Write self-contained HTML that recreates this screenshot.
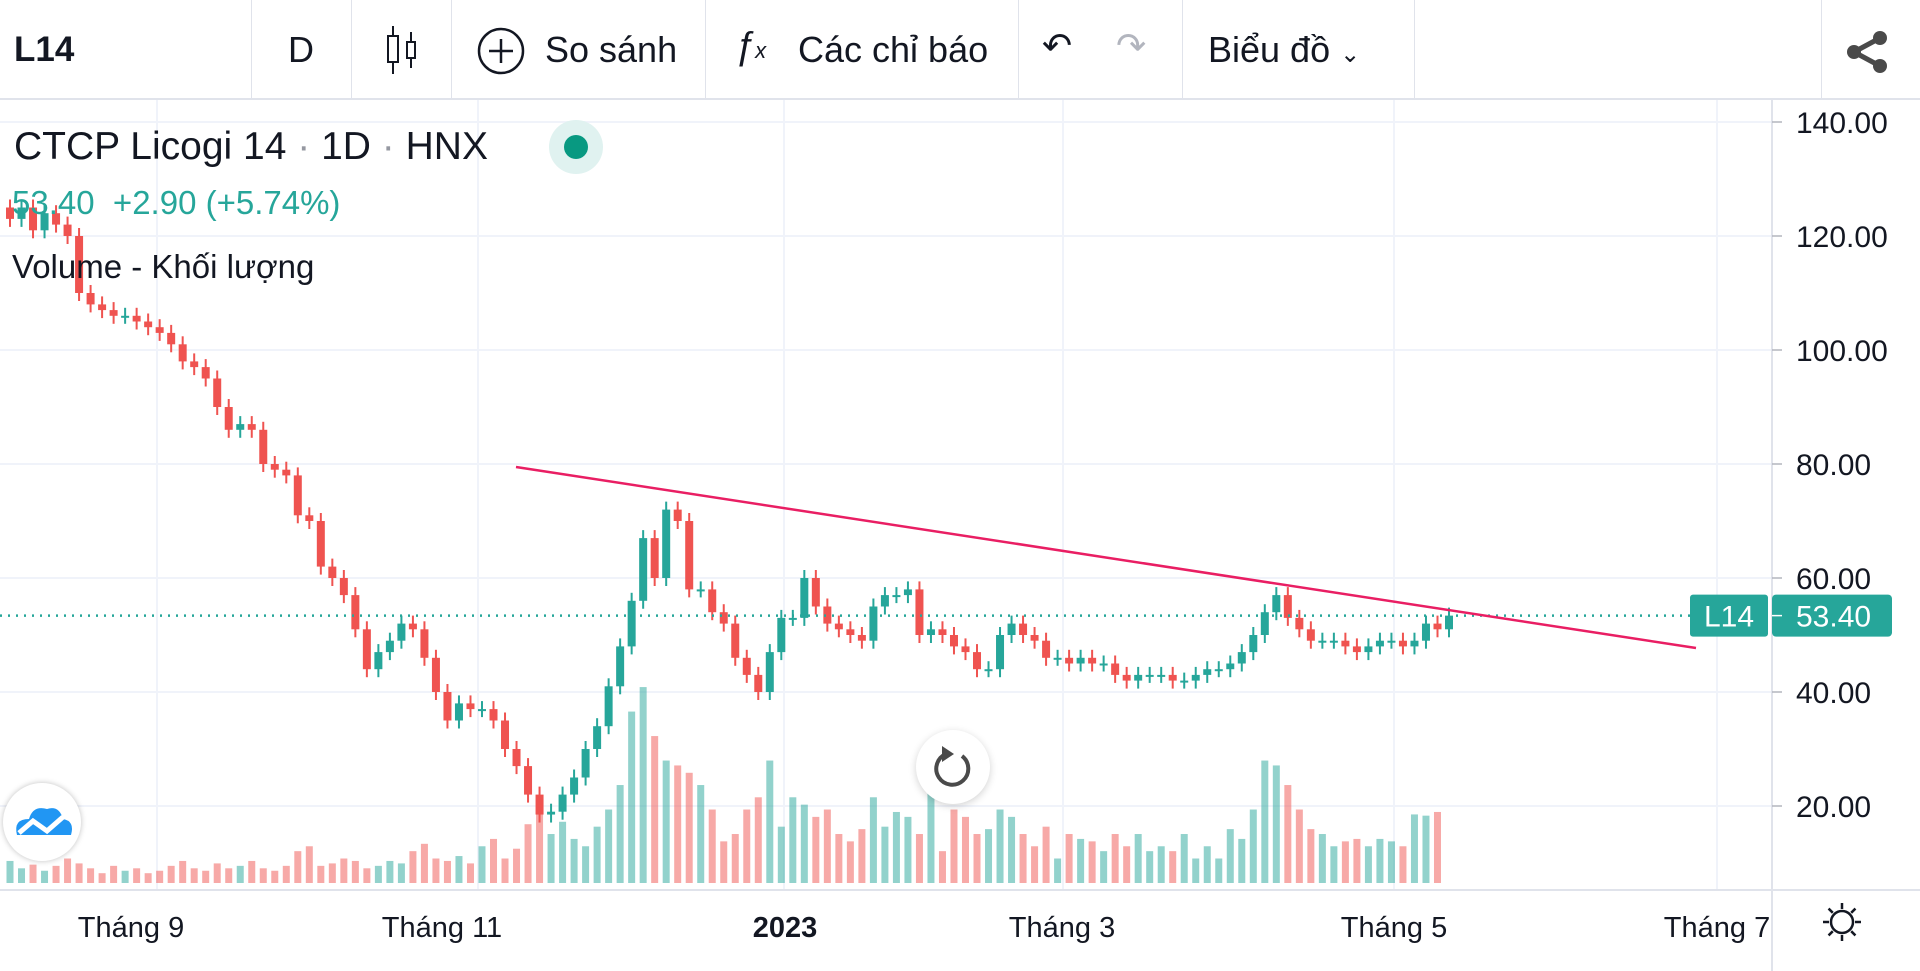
<!DOCTYPE html>
<html><head><meta charset="utf-8">
<style>
html,body{margin:0;padding:0;background:#fff;}
body{width:1920px;height:971px;overflow:hidden;position:relative;font-family:"Liberation Sans","Noto Sans CJK SC",sans-serif;color:#131722;}
.tb{position:absolute;top:0;left:0;width:1920px;height:98px;border-bottom:2px solid #e0e3eb;}
.sep{position:absolute;top:0;width:1px;height:98px;background:#e0e3eb;}
.t{position:absolute;font-size:36px;line-height:36px;white-space:nowrap;}
svg{position:absolute;left:0;top:0;}
</style></head><body>
<div class="tb">
  <div class="sep" style="left:251px"></div><div class="sep" style="left:351px"></div><div class="sep" style="left:451px"></div><div class="sep" style="left:705px"></div><div class="sep" style="left:1018px"></div><div class="sep" style="left:1182px"></div><div class="sep" style="left:1414px"></div><div class="sep" style="left:1821px"></div>
  <div class="t" style="left:14px;top:32px;font-weight:bold;font-size:35px">L14</div>
  <div class="t" style="left:288px;top:32px">D</div>
  <svg style="left:383px;top:24px" width="40" height="52"><line x1="10" y1="2" x2="10" y2="50" stroke="#131722" stroke-width="2"/><rect x="5" y="12" width="10" height="26" fill="#fff" stroke="#131722" stroke-width="2"/><line x1="28" y1="8" x2="28" y2="44" stroke="#131722" stroke-width="2"/><rect x="24" y="18" width="8" height="16" fill="#fff" stroke="#131722" stroke-width="2"/></svg>
  <svg style="left:476px;top:26px" width="50" height="50"><circle cx="25" cy="25" r="22" fill="none" stroke="#131722" stroke-width="2.5"/><line x1="25" y1="13" x2="25" y2="37" stroke="#131722" stroke-width="2.5"/><line x1="13" y1="25" x2="37" y2="25" stroke="#131722" stroke-width="2.5"/></svg>
  <div class="t" style="left:545px;top:32px">So sánh</div>
  <div class="t" style="left:734px;top:28px;font-style:italic;font-size:38px">ƒ<span style="font-size:22px">x</span></div>
  <div class="t" style="left:798px;top:32px">Các chỉ báo</div>
  <div class="t" style="left:1042px;top:28px;font-size:36px">↶</div>
  <div class="t" style="left:1116px;top:28px;font-size:36px;color:#b2b5be">↷</div>
  <div class="t" style="left:1208px;top:32px">Biểu đồ <span style="font-size:24px">⌄</span></div>
  <svg style="left:1846px;top:30px" width="44" height="44"><line x1="8" y1="22" x2="34" y2="8" stroke="#4a4a4a" stroke-width="5"/><line x1="8" y1="22" x2="34" y2="36" stroke="#4a4a4a" stroke-width="5"/><circle cx="8" cy="22" r="7" fill="#4a4a4a"/><circle cx="34" cy="8" r="7" fill="#4a4a4a"/><circle cx="34" cy="36" r="7" fill="#4a4a4a"/></svg>
</div>
<svg id="chart" width="1920" height="971" style="top:0"></svg>
<div class="t" style="left:14px;top:126px;font-size:39px;line-height:42px">CTCP Licogi 14 <span style="color:#9598a1">·</span> 1D <span style="color:#9598a1">·</span> HNX</div>
<div style="position:absolute;left:549px;top:120px;width:54px;height:54px;border-radius:50%;background:#e0f2f0"><div style="position:absolute;left:15px;top:15px;width:24px;height:24px;border-radius:50%;background:#089981"></div></div>
<div class="t" style="left:12px;top:185px;font-size:33px;color:#26a69a">53.40&nbsp;&nbsp;+2.90 (+5.74%)</div>
<div class="t" style="left:12px;top:249px;font-size:33px">Volume - Khối lượng</div>
<div style="position:absolute;left:3px;top:783px;width:78px;height:78px;border-radius:50%;background:#fff;box-shadow:0 0 6px rgba(0,0,0,.25)">
 <svg width="78" height="78"><path d="M14 52 Q10 36 26 36 Q30 22 44 26 Q56 22 60 36 Q72 38 68 52 Z" fill="#2196f3"/><polyline points="16,50 30,38 44,48 60,34" fill="none" stroke="#fff" stroke-width="5"/></svg></div>
<div style="position:absolute;left:916px;top:730px;width:74px;height:74px;border-radius:50%;background:#fff;box-shadow:0 2px 8px rgba(0,0,0,.18)">
 <svg width="74" height="74"><path d="M30 24 A16 16 0 1 0 46 26" fill="none" stroke="#4a4a4a" stroke-width="4"/><polygon points="26,16 38,24 26,32" fill="#4a4a4a"/></svg></div>
<script>
const priceTicks=[20,40,60,80,100,120,140];
const dateLabels=["Tháng 9","Tháng 11","2023","Tháng 3","Tháng 5","Tháng 7"];
const closes=[123,125,121,124,122,120,110,108,107,106,106,105,104,103,101,98,97,95,90,86,87,86,80,79,78,71,70,62,60,57,51,44,47,49,52,51,46,40,35,38,37,37,35,30,27,22,18.5,19,22,25,30,34,41,48,56,67,60,72,70,58,58,54,52,46,43,40,47,53,53,60,55,52,51,50,49,55,57,57,58,50,51,50,48,47,44,44,50,52,50,49,46,46,45,46,45,45,43,42,43,43,43,42,42,43,44,44,45,47,50,54,57,53,51,49,49,49,48,47,48,49,49,48,49,52,51,53.4];
const volumes=[18,12,15,10,14,20,16,12,8,14,10,12,8,10,14,18,12,10,16,12,14,18,12,10,14,26,30,14,16,20,18,12,14,18,16,26,32,20,18,22,16,30,36,20,28,48,62,40,50,36,30,46,60,80,140,160,120,100,96,90,80,60,34,40,60,70,100,46,70,64,54,60,40,34,44,70,46,58,54,40,74,26,60,54,40,44,60,54,40,30,46,20,40,36,34,26,40,30,40,26,30,26,40,20,30,20,44,36,60,100,96,80,60,44,40,30,34,36,30,36,34,30,56,55,58];
const N=closes.length;
const svg=document.getElementById('chart');
const NS='http://www.w3.org/2000/svg';
const yP=p=>920-5.7*p;
const x0=10,x1=1449;
const xB=i=>x0+i*(x1-x0)/(N-1);
const volBase=883,volK=1.2245;
function mk(t,a){const e=document.createElementNS(NS,t);for(const k in a)e.setAttribute(k,a[k]);svg.appendChild(e);return e;}
const vgx=[157,478,784,1063,1394,1717];
const lblx=[131,442,785,1062,1394,1717];
priceTicks.forEach(p=>{const l=mk('line',{x1:0,x2:1772,y1:yP(p),y2:yP(p),stroke:'#f0f3fa','stroke-width':2});

});
vgx.forEach(x=>{const l=mk('line',{x1:x,x2:x,y1:100,y2:890,stroke:'#f0f3fa','stroke-width':2});

});
mk('line',{x1:1772,x2:1772,y1:100,y2:971,stroke:'#e0e3eb','stroke-width':2});
mk('line',{x1:0,x2:1920,y1:890,y2:890,stroke:'#e0e3eb','stroke-width':2});
priceTicks.forEach(p=>{const t=mk('text',{x:1796,y:yP(p)+11,'font-size':30,fill:'#131722','font-family':'Liberation Sans'});t.textContent=p.toFixed(2);


mk('line',{x1:1772,x2:1782,y1:yP(p),y2:yP(p),stroke:'#b2b5be','stroke-width':1.5});});
dateLabels.forEach((d,i)=>{const t=mk('text',{x:lblx[i],y:937,'font-size':29,fill:'#131722','text-anchor':'middle','font-weight':d==='2023'?'bold':'normal','font-family':'Liberation Sans'});t.textContent=d;

});
volumes.forEach((v,i)=>{const o=i?closes[i-1]:closes[0];const up=closes[i]>=o;
const r=mk('rect',{x:xB(i)-3.5,y:volBase-v*volK,width:7,height:v*volK,fill:up?'rgba(38,166,154,0.5)':'rgba(239,83,80,0.5)'});

});
closes.forEach((c,i)=>{const o=i?closes[i-1]:closes[0]+2;const up=c>=o;const col=up?'#26a69a':'#ef5350';
const hi=Math.max(o,c),lo=Math.min(o,c);
mk('line',{x1:xB(i),x2:xB(i),y1:yP(hi)-8,y2:yP(lo)+8,stroke:col,'stroke-width':2});
const r=mk('rect',{x:xB(i)-4,y:yP(hi),width:8,height:Math.max(2,yP(lo)-yP(hi)),fill:col});

});
const last=closes[N-1];
const dl=mk('line',{x1:0,x2:1690,y1:yP(last),y2:yP(last),stroke:'#26a69a','stroke-width':2.5,'stroke-dasharray':'2 6'});


const tl=mk('line',{x1:516,y1:467,x2:1696,y2:648,stroke:'#e91e63','stroke-width':2.5});


const lb=mk('rect',{x:1690,y:yP(last)-21,width:78,height:42,rx:3,fill:'#26a69a'});


const lt=mk('text',{x:1729,y:yP(last)+11,'font-size':30,fill:'#fff','text-anchor':'middle','font-family':'Liberation Sans'});lt.textContent='L14';
const pb=mk('rect',{x:1772,y:yP(last)-21,width:120,height:42,rx:4,fill:'#26a69a'});


const pt=mk('text',{x:1796,y:yP(last)+11,'font-size':30,fill:'#fff','font-family':'Liberation Sans'});pt.textContent=last.toFixed(2);
mk('line',{x1:1772,x2:1782,y1:yP(last),y2:yP(last),stroke:'#fff','stroke-width':1.5});
const g=mk('circle',{cx:1842,cy:922,r:11,fill:'none',stroke:'#131722','stroke-width':2.5});


for(let k=0;k<8;k++){const a=k*Math.PI/4;mk('line',{x1:1842+13*Math.cos(a),y1:922+13*Math.sin(a),x2:1842+19*Math.cos(a),y2:922+19*Math.sin(a),stroke:'#131722','stroke-width':2.5});}
</script>
</body></html>
